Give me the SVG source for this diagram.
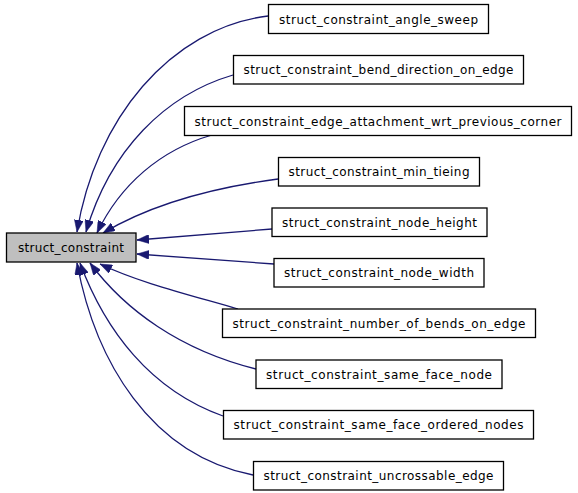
<svg xmlns="http://www.w3.org/2000/svg" width="578" height="493" viewBox="0 0 578 493">
<style>
.box{fill:#ffffff;stroke:#000000;stroke-width:1.3}
.main{fill:#bfbfbf;stroke:#000000;stroke-width:1.3}
.lbl{font-family:"DejaVu Sans",sans-serif;font-size:12px;fill:#000000;text-anchor:middle}
.edge{fill:none;stroke:#191970;stroke-width:1.3;marker-end:url(#arr)}
</style>
<defs>
<marker id="arr" viewBox="0 0 12 9" refX="12" refY="4.5" markerWidth="12" markerHeight="9" markerUnits="userSpaceOnUse" orient="auto">
<path d="M0,0 L12,4.5 L0,9 z" fill="#191970" stroke="#191970" stroke-width="0.5"/>
</marker>
</defs>
<rect width="578" height="493" fill="#ffffff"/>
<g id="connectors">
<path class="edge" d="M268,16 C170,28 95,120 77,232"/>
<path class="edge" d="M233,75 C165,95 110,150 86,232"/>
<path class="edge" d="M212,135 C160,150 120,185 97,233"/>
<path class="edge" d="M278,179 C210,188 150,205 103,233"/>
<path class="edge" d="M272,229 L137,240"/>
<path class="edge" d="M274,264 L137,254"/>
<path class="edge" d="M238,309 C190,295 140,283 100,264"/>
<path class="edge" d="M256,369 C180,350 125,310 90,263"/>
<path class="edge" d="M223,416 C150,390 105,330 80,263"/>
<path class="edge" d="M253,475 C150,455 95,360 77,263"/>
</g>
<g id="node_main">
<rect class="main" x="6.5" y="233" width="129.5" height="29"/>
<text class="lbl" x="71" y="251.5" textLength="106" lengthAdjust="spacing">struct_constraint</text>
</g>
<g id="node1">
<rect class="box" x="268.5" y="4.5" width="220" height="29"/>
<text class="lbl" x="378.5" y="23.5" textLength="199" lengthAdjust="spacing">struct_constraint_angle_sweep</text>
</g>
<g id="node2">
<rect class="box" x="233.5" y="55.5" width="290" height="28.5"/>
<text class="lbl" x="378.5" y="74" textLength="270" lengthAdjust="spacing">struct_constraint_bend_direction_on_edge</text>
</g>
<g id="node3">
<rect class="box" x="184.5" y="106.5" width="387" height="29"/>
<text class="lbl" x="378" y="125.5" textLength="367" lengthAdjust="spacing">struct_constraint_edge_attachment_wrt_previous_corner</text>
</g>
<g id="node4">
<rect class="box" x="278.5" y="157.5" width="201" height="28.5"/>
<text class="lbl" x="379" y="176" textLength="181" lengthAdjust="spacing">struct_constraint_min_tieing</text>
</g>
<g id="node5">
<rect class="box" x="272" y="208" width="215" height="28.5"/>
<text class="lbl" x="379.5" y="226.5" textLength="195" lengthAdjust="spacing">struct_constraint_node_height</text>
</g>
<g id="node6">
<rect class="box" x="274" y="258.5" width="210" height="28.5"/>
<text class="lbl" x="379" y="277" textLength="190" lengthAdjust="spacing">struct_constraint_node_width</text>
</g>
<g id="node7">
<rect class="box" x="222.5" y="309" width="313" height="28.5"/>
<text class="lbl" x="379" y="327.5" textLength="293" lengthAdjust="spacing">struct_constraint_number_of_bends_on_edge</text>
</g>
<g id="node8">
<rect class="box" x="256" y="360" width="246" height="28.5"/>
<text class="lbl" x="379" y="378.5" textLength="226" lengthAdjust="spacing">struct_constraint_same_face_node</text>
</g>
<g id="node9">
<rect class="box" x="223.5" y="410.5" width="310" height="28.5"/>
<text class="lbl" x="378.5" y="429" textLength="290" lengthAdjust="spacing">struct_constraint_same_face_ordered_nodes</text>
</g>
<g id="node10">
<rect class="box" x="253.5" y="461.5" width="250" height="28.5"/>
<text class="lbl" x="378.5" y="480" textLength="230" lengthAdjust="spacing">struct_constraint_uncrossable_edge</text>
</g>
</svg>
